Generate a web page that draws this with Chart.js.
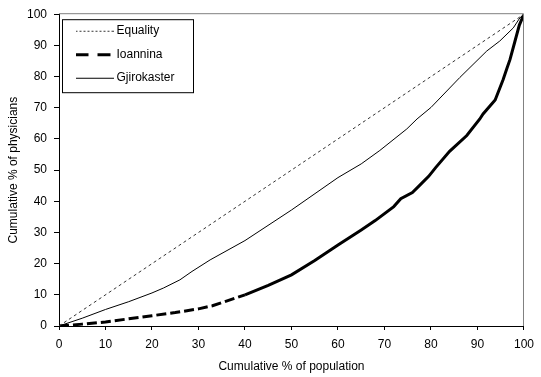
<!DOCTYPE html>
<html><head><meta charset="utf-8">
<script src="https://cdn.jsdelivr.net/npm/chart.js@4/dist/chart.umd.min.js"></script>
<style>html,body{margin:0;padding:0;background:#fff}canvas{display:block}</style>
</head><body>
<canvas id="c" width="541" height="377"></canvas>
<script>
const xTicks = [0, 10, 20, 30, 40, 50, 60, 70, 80, 90, 100];
const yTicks = [0, 10, 20, 30, 40, 50, 60, 70, 80, 90, 100];

const equalityX = [0, 100];
const equalityY = [0, 100];

const ioanninaX = [0, 5, 10, 15, 20, 25, 30, 33, 36, 40, 45, 50, 55, 60, 65, 68, 72, 73.5, 76, 77.5, 79.5, 81, 84, 87.7, 90.5, 91.2, 93.8, 95.5, 96.3, 97, 98, 99, 100];
const ioanninaY = [0, 0.6, 1.3, 2.3, 3.3, 4.3, 5.5, 6.5, 8.0, 10.0, 13.0, 16.4, 21.0, 26.0, 30.8, 33.8, 38.3, 40.8, 42.8, 45.0, 48.0, 50.8, 56.0, 61.1, 66.4, 68.0, 72.5, 79.0, 82.5, 85.5, 91.0, 96.5, 100];

const gjiroX = [0, 5, 10, 15, 20, 22.5, 26, 28.6, 32.5, 40, 50, 60, 65, 69, 74.8, 77, 80, 86.2, 92, 94.8, 97.7, 99.1, 100];
const gjiroY = [0, 2.5, 5.3, 7.8, 10.6, 12.2, 14.8, 17.5, 21.2, 27.4, 37.2, 47.6, 52.0, 56.3, 63.2, 66.4, 70.1, 79.7, 88.2, 91.4, 95.6, 98.8, 100];

const pts = (xs, ys) => xs.map((x, i) => ({x: x, y: ys[i]}));
const FONT = {family: "'Liberation Sans', Arial, sans-serif", size: 12};

function sample(color, dash, width) {
  const c = document.createElement('canvas');
  c.width = 38; c.height = 6;
  const g = c.getContext('2d');
  g.strokeStyle = color; g.lineWidth = width; g.setLineDash(dash);
  g.beginPath(); g.moveTo(0, width % 2 ? 3.5 : 3); g.lineTo(38, width % 2 ? 3.5 : 3); g.stroke();
  return c;
}
const legendSamples = [sample('#333', [2, 2], 1), sample('#000', [13, 9], 3), sample('#000', [], 1)];

const framePlugin = {
  id: 'frame',
  afterLayout(chart) {
    const L = chart.legend, ca = chart.chartArea;
    if (!L) return;
    L.left = ca.left + 8; L.top = ca.top - 1;
    L.right = ca.right; L.bottom = ca.bottom;
    L.width = L.right - L.left; L.height = L.bottom - L.top;
  },
  afterDraw(chart) {
    const {ctx, chartArea: ca} = chart;
    ctx.save();
    ctx.lineWidth = 1;
    ctx.strokeStyle = '#808080';
    ctx.beginPath();
    ctx.moveTo(ca.left, ca.top - 0.5);
    ctx.lineTo(ca.right - 0.5, ca.top - 0.5);
    ctx.lineTo(ca.right - 0.5, ca.bottom);
    ctx.stroke();
    ctx.strokeStyle = '#000';
    ctx.strokeRect(ca.left + 3.5, ca.top + 5.5, 131, 73);
    ctx.restore();
  }
};

new Chart(document.getElementById('c'), {
  type: 'line',
  data: {
    datasets: [
      {label: 'Equality', data: pts(equalityX, equalityY), borderColor: '#333', backgroundColor: '#333', borderWidth: 1, borderDash: [3, 3], pointRadius: 0, tension: 0},
      {label: 'Ioannina', data: pts(ioanninaX, ioanninaY), borderColor: '#000', backgroundColor: '#000', borderWidth: 3, borderDash: [10, 4], pointRadius: 0, tension: 0,
        segment: {borderDash: c => (c.p0.parsed.x >= 38 ? [] : undefined)}},
      {label: 'Gjirokaster', data: pts(gjiroX, gjiroY), borderColor: '#000', backgroundColor: '#000', borderWidth: 1, pointRadius: 0, tension: 0}
    ]
  },
  options: {
    responsive: false,
    animation: false,
    layout: {padding: {top: 13, right: 17, left: 0, bottom: 0}},
    plugins: {
      tooltip: {enabled: false},
      legend: {
        position: 'chartArea', align: 'start',
        labels: {
          usePointStyle: true, pointStyleWidth: 32, padding: 11.5, color: '#000', font: FONT,
          generateLabels: chart => Chart.defaults.plugins.legend.labels.generateLabels(chart)
            .map((it, i) => Object.assign(it, {pointStyle: legendSamples[i]}))
        }
      }
    },
    scales: {
      x: {
        type: 'linear', min: 0, max: 100,
        afterBuildTicks: s => { s.ticks = xTicks.map(v => ({value: v})); },
        afterFit: s => { s.height = 51; },
        grid: {drawOnChartArea: false, drawTicks: true, tickLength: 4, color: '#000'},
        border: {color: '#000', width: 1},
        ticks: {padding: 7, color: '#000', font: FONT, maxRotation: 0, autoSkip: false},
        title: {display: true, text: 'Cumulative % of population', color: '#000', font: FONT, padding: {top: 0, bottom: 3}}
      },
      y: {
        type: 'linear', min: 0, max: 100,
        afterBuildTicks: s => { s.ticks = yTicks.map(v => ({value: v})); },
        afterFit: s => { s.width = 59; },
        grid: {drawOnChartArea: false, drawTicks: true, tickLength: 5, color: '#000'},
        border: {color: '#000', width: 1},
        ticks: {padding: 7, color: '#000', font: FONT, autoSkip: false},
        title: {display: true, text: 'Cumulative % of physicians', color: '#000', font: FONT, padding: {top: 6, bottom: 0}}
      }
    }
  },
  plugins: [framePlugin]
});
</script>
</body></html>
